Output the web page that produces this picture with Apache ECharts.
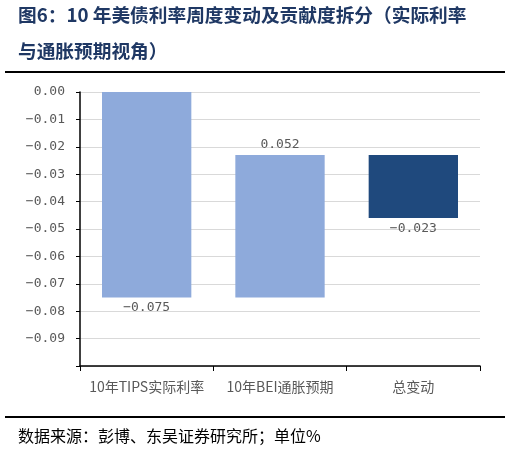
<!DOCTYPE html>
<html>
<head>
<meta charset="utf-8">
<script src="https://cdn.jsdelivr.net/npm/echarts@6/dist/echarts.min.js"></script>
<style>
  html, body { margin: 0; padding: 0; background: #fff; }
  #main { width: 510px; height: 451px; }
</style>
</head>
<body>
<div id="main"></div>
<script>
// data
var categories = ['10年TIPS实际利率', '10年BEI通胀预期', '总变动'];
var changes = [-0.075, 0.052, -0.023];     // label values
var isTotal = [false, false, true];
var yTicks = { min: -0.1, max: 0, interval: 0.01 };

// waterfall helpers: invisible base + visible part (stacked downward)
var base = [];
var visible = [];
var running = 0;
for (var i = 0; i < changes.length; i++) {
  if (isTotal[i]) {
    // the source draws the total bar hanging below the running level
    base.push(changes[i]);
    visible.push(changes[i]);
  } else {
    var start = running;
    var end = running + changes[i];
    base.push(Math.max(start, end));
    visible.push(Math.min(start, end) - Math.max(start, end));
    running = end;
  }
}

var lightBlue = '#8eaadb';
var darkBlue = '#1f497d';
var gray = '#595959';
var font = 'Noto Sans CJK SC';
var numFont = 'DejaVu Sans Mono';

var chart = echarts.init(document.getElementById('main'));

var option = {
  animation: false,
  textStyle: { fontFamily: font },
  grid: { left: 80, right: 30, top: 92, bottom: 85 },
  graphic: [
    {
      type: 'text', left: 18, top: 6,
      style: { text: '图6：10 年美债利率周度变动及贡献度拆分（实际利率', fill: '#1f3864',
        font: 'bold 18.7px "Noto Sans CJK SC"' }
    },
    {
      type: 'text', left: 18, top: 42,
      style: { text: '与通胀预期视角）', fill: '#1f3864',
        font: 'bold 18.7px "Noto Sans CJK SC"' }
    },
    {
      type: 'rect', shape: { x: 5, y: 71, width: 500, height: 2 },
      style: { fill: '#000' }
    },
    {
      type: 'rect', shape: { x: 5, y: 416, width: 500, height: 2 },
      style: { fill: '#000' }
    },
    {
      type: 'text', left: 18, top: 428,
      style: { text: '数据来源：彭博、东吴证券研究所；单位%', fill: '#000',
        font: '16px "Noto Sans CJK SC"' }
    }
  ],
  xAxis: {
    type: 'category',
    data: categories,
    axisLine: { onZero: false, lineStyle: { color: '#000', width: 1.5 } },
    axisTick: { show: true, length: 5, lineStyle: { color: '#000' } },
    axisLabel: { color: gray, fontSize: 14, margin: 14, interval: 0 }
  },
  yAxis: {
    type: 'value',
    min: yTicks.min,
    max: yTicks.max,
    interval: yTicks.interval,
    axisLine: { show: true, lineStyle: { color: '#000', width: 1.5 } },
    axisTick: { show: true, length: 4, lineStyle: { color: '#000' } },
    axisLabel: {
      color: gray, fontSize: 13, margin: 15, fontFamily: numFont,
      formatter: function (v) {
        if (Math.abs(v - yTicks.min) < 1e-9) return '';
        return v.toFixed(2).replace('-', '−');
      }
    },
    splitLine: { show: true, lineStyle: { color: '#d9d9d9', width: 1 } }
  },
  series: [
    {
      name: 'base',
      type: 'bar',
      stack: 'wf',
      barWidth: '67%',
      itemStyle: { color: 'transparent' },
      silent: true,
      data: base
    },
    {
      name: 'change',
      type: 'bar',
      stack: 'wf',
      barWidth: '67%',
      data: visible.map(function (v, i) {
        return {
          value: v,
          itemStyle: { color: isTotal[i] ? darkBlue : lightBlue },
          label: { position: changes[i] > 0 ? 'top' : 'bottom' }
        };
      }),
      label: {
        show: true,
        color: gray,
        fontSize: 13,
        fontFamily: numFont,
        distance: 4,
        formatter: function (p) {
          return changes[p.dataIndex].toFixed(3).replace('-', '−');
        }
      }
    }
  ]
};

chart.setOption(option);
</script>
</body>
</html>
